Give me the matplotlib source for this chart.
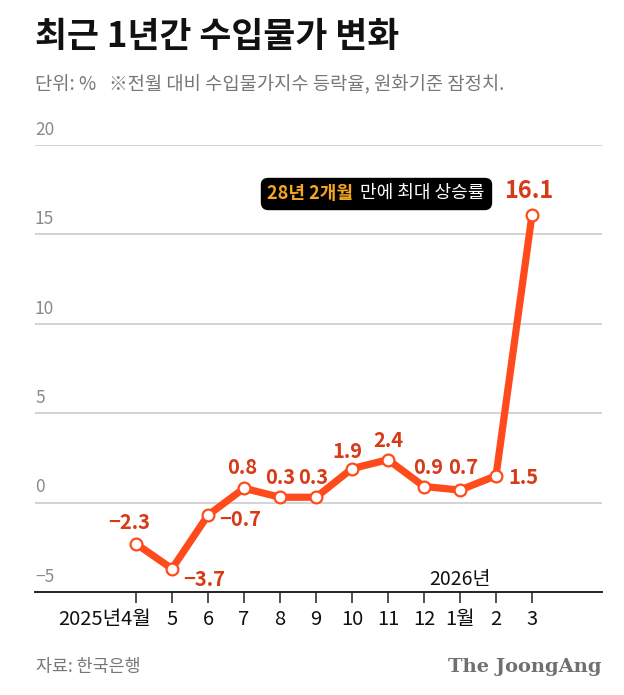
import matplotlib
matplotlib.use("Agg")
from matplotlib import pyplot as plt
from matplotlib.offsetbox import TextArea, HPacker, AnnotationBbox
from matplotlib.transforms import ScaledTranslation
import numpy as np

plt.rcParams['font.family'] = ['Noto Sans CJK KR', 'DejaVu Sans']

# data
months = ["2025년4월", "5", "6", "7", "8", "9", "10", "11", "12", "1월", "2", "3"]
values = [-2.3, -3.7, -0.7, 0.8, 0.3, 0.3, 1.9, 2.4, 0.9, 0.7, 1.5, 16.1]
value_labels = ["−2.3", "−3.7", "−0.7", "0.8", "0.3", "0.3", "1.9", "2.4", "0.9", "0.7", "1.5", "16.1"]
y_ticks = [-5, 0, 5, 10, 15, 20]
y_tick_labels = ["−5", "0", "5", "10", "15", "20"]

# label offsets in points (dx, dy, ha)
label_offsets = [(-5, 15, 'center'), (8, -8, 'left'), (8, -3, 'left'), (-1, 15, 'center'),
                 (0, 14, 'center'), (-2, 14, 'center'), (-3, 12, 'center'), (0, 14, 'center'),
                 (3, 14, 'center'), (2, 16, 'center'), (9, -1, 'left'), (-2, 17, 'center')]

line_color = "#ff4a1c"
label_color = "#d63a17"
grid_color = "#cccccc"
tick_gray = "#8a8a8a"

fig = plt.figure(figsize=(6.24, 6.95), dpi=100)
ax = fig.add_axes([35/624, 1-592/695, (602-35)/624, (592-145)/695])

x = np.arange(len(values))
ax.set_xlim((35-136)/36, (602-136)/36)
ax.set_ylim(-5, 20)

for v, lab in zip(y_ticks, y_tick_labels):
    if v > -5:
        ax.axhline(v, color=grid_color, lw=1.2, zorder=1)
    ax.text(0.0, v + 0.35, lab, transform=ax.get_yaxis_transform(), ha='left', va='bottom',
            fontsize=12.5, color=tick_gray)

ax.plot(x, values, color=line_color, lw=5.2, zorder=3, solid_joinstyle='round')
ax.plot(x, values, linestyle='none', marker='o', markersize=8.5, markerfacecolor='white',
        markeredgecolor=line_color, markeredgewidth=1.6, zorder=4)

for i, (v, lab) in enumerate(zip(values, value_labels)):
    dx, dy, ha = label_offsets[i]
    fs = 17 if i == len(values) - 1 else 14.5
    ax.annotate(lab, (x[i], v), xytext=(dx, dy), textcoords='offset points', ha=ha, va='center',
                fontsize=fs, fontweight='bold', color=label_color, zorder=5)

# axes styling
for s in ['top', 'right', 'left']:
    ax.spines[s].set_visible(False)
ax.spines['bottom'].set_color('#222222')
ax.spines['bottom'].set_linewidth(1.4)
ax.set_yticks([])
ax.set_xticks(x)
ax.set_xticklabels(months, fontsize=14.5, color='#111111')
ax.tick_params(axis='x', length=8, width=1.2, color='#333333', pad=4)
first = ax.get_xticklabels()[0]
first.set_ha('right')
first.set_transform(first.get_transform() + ScaledTranslation(15/100, 0, fig.dpi_scale_trans))

ax.text(9, -4.3, "2026년", ha='center', va='center', fontsize=14, color='#111111')

# callout box
t1 = TextArea("28년 2개월", textprops=dict(color="#f5a623", fontsize=13, fontweight='bold'))
t2 = TextArea("만에 최대 상승률", textprops=dict(color="white", fontsize=13))
pack = HPacker(children=[t1, t2], pad=0, sep=5, align='center')
ab = AnnotationBbox(pack, ((376-136)/36, (502-193)/17.86), xycoords='data', frameon=True,
                    box_alignment=(0.5, 0.5), pad=0.4,
                    bboxprops=dict(boxstyle="round,pad=0.45,rounding_size=0.5", fc="black", ec="black"))
ax.add_artist(ab)

# title and notes
fig.text(35/624, 1-36/695, "최근 1년간 수입물가 변화", fontsize=25, fontweight='heavy', color='#111111',
         ha='left', va='center')
fig.text(35/624, 1-85/695, "단위: %   ※전월 대비 수입물가지수 등락율, 원화기준 잠정치.", fontsize=13.5,
         color='#777777', ha='left', va='center')
fig.text(36/624, 1-667/695, "자료: 한국은행", fontsize=12.5, color='#777777', ha='left', va='center')
fig.text(601/624, 1-667/695, "The JoongAng", fontsize=14, fontweight='bold', family='DejaVu Serif',
         color='#707070', ha='right', va='center')

fig.savefig("out.png", dpi=100)
